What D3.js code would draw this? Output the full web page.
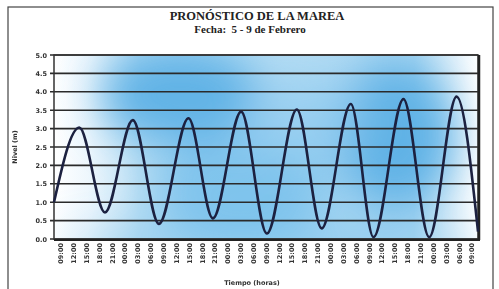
<!DOCTYPE html>
<html>
<head>
<meta charset="utf-8">
<script src="https://cdn.jsdelivr.net/npm/d3@7/dist/d3.min.js"></script>
<style>
html,body{margin:0;padding:0;background:#fff;}
svg{display:block;}
</style>
</head>
<body>
<svg id="chart" width="499" height="289"></svg>
<script>
// ---- data ----
const title = "PRONÓSTICO DE LA MAREA";
const subtitle = "Fecha:  5 - 9 de Febrero";
const yLabel = "Nivel (m)";
const xLabel = "Tiempo (horas)";
// tick labels every 3 hours
const timeLabels = ["09:00","12:00","15:00","18:00","21:00","00:00","03:00","06:00",
  "09:00","12:00","15:00","18:00","21:00","00:00","03:00","06:00",
  "09:00","12:00","15:00","18:00","21:00","00:00","03:00","06:00",
  "09:00","12:00","15:00","18:00","21:00","00:00","03:00","06:00","09:00"];
const yTicks = [0,0.5,1,1.5,2,2.5,3,3.5,4,4.5,5];
// tide turning points: hours since first label, level (m)
const tideHours  = [-1.5, 4.4, 10.4, 16.9, 23.0, 29.9, 35.6, 42.2, 48.2, 55.2, 61.0, 67.8, 73.1, 80.1, 86.1, 92.5, 97.5];
const tideLevels = [1.0, 3.03, 0.72, 3.23, 0.41, 3.28, 0.56, 3.46, 0.15, 3.52, 0.29, 3.67, 0.05, 3.8, 0.05, 3.87, 0.2];

// ---- layout ----
const svg = d3.select("#chart");
const L = 54, R = 478, T = 55, B = 239;
const stepH = 3;
const x = d3.scaleLinear().domain([-stepH/2, (timeLabels.length-1)*stepH + stepH/2]).range([L, R]);
const y = d3.scaleLinear().domain([0, 5]).range([B, T]);

// outer frame
svg.append("rect").attr("x",8).attr("y",7).attr("width",485).attr("height",300)
  .attr("fill","none").attr("stroke","#444").attr("stroke-width",1.2);

// titles
svg.append("text").attr("x",257).attr("y",20).attr("text-anchor","middle")
  .attr("font-family","Liberation Serif, serif").attr("font-weight","bold").attr("font-size",12.5)
  .attr("fill","#222").text(title);
svg.append("text").attr("x",250).attr("y",33).attr("text-anchor","middle")
  .attr("font-family","Liberation Serif, serif").attr("font-weight","bold").attr("font-size",11)
  .attr("fill","#222").attr("xml:space","preserve").text(subtitle);

// background shading
const defs = svg.append("defs");
defs.append("clipPath").attr("id","clip").append("rect")
  .attr("x",L).attr("y",T).attr("width",R-L).attr("height",B-T);
const f = defs.append("filter").attr("id","blur").attr("x","-50%").attr("y","-50%").attr("width","200%").attr("height","200%");
f.append("feGaussianBlur").attr("stdDeviation",22);
const lg = defs.append("linearGradient").attr("id","hgrad").attr("x1","0").attr("x2","1").attr("y1","0").attr("y2","0");
[[0,"#ffffff"],[0.08,"#eef7fd"],[0.2,"#bfe1f5"],[0.5,"#b5ddf4"],[0.85,"#b0daf3"],[0.95,"#e6f3fb"],[1,"#ffffff"]]
  .forEach(s=>lg.append("stop").attr("offset",s[0]).attr("stop-color",s[1]));

const bg = svg.append("g").attr("clip-path","url(#clip)");
bg.append("rect").attr("x",L).attr("y",T).attr("width",R-L).attr("height",B-T).attr("fill","url(#hgrad)");
const blobs = bg.append("g").attr("filter","url(#blur)");
const blobData = [
  {cx:180, cy:95, rx:80, ry:50, c:"#56aee4", o:0.9},
  {cx:240, cy:190, rx:90, ry:50, c:"#6dbbea", o:0.75},
  {cx:395, cy:135, rx:60, ry:75, c:"#56aee4", o:0.9},
  {cx:310, cy:120, rx:55, ry:45, c:"#8fcbef", o:0.7},
  {cx:270, cy:245, rx:210, ry:16, c:"#6dbbea", o:0.6}
];
blobs.selectAll("ellipse").data(blobData).join("ellipse")
  .attr("cx",d=>d.cx).attr("cy",d=>d.cy).attr("rx",d=>d.rx).attr("ry",d=>d.ry)
  .attr("fill",d=>d.c).attr("opacity",d=>d.o);

// gridlines
svg.append("g").selectAll("line").data(yTicks).join("line")
  .attr("x1",L-4).attr("x2",R).attr("y1",d=>y(d)).attr("y2",d=>y(d))
  .attr("stroke","#2a2a2a").attr("stroke-width",1.6);

// plot border
svg.append("rect").attr("x",L).attr("y",T).attr("width",R-L).attr("height",B-T)
  .attr("fill","none").attr("stroke","#333").attr("stroke-width",1.5);
svg.append("line").attr("x1",R+1).attr("x2",R+1).attr("y1",T).attr("y2",B+1)
  .attr("stroke","#222").attr("stroke-width",2.5);
svg.append("line").attr("x1",L).attr("x2",R+2).attr("y1",B+1).attr("y2",B+1)
  .attr("stroke","#222").attr("stroke-width",2.2);

// y axis labels
const yAxis = d3.axisLeft(y).tickValues(yTicks).tickFormat(d3.format(".1f")).tickSize(0).tickPadding(7);
const gy = svg.append("g").attr("transform",`translate(${L},0)`).call(yAxis);
gy.select(".domain").remove();
gy.selectAll("text").attr("font-family","DejaVu Sans, sans-serif").attr("font-weight","bold")
  .attr("font-size",6.5).attr("fill","#333");

// x axis labels
const tickHours = timeLabels.map((d,i)=>i*stepH);
const xAxis = d3.axisBottom(x).tickValues(tickHours).tickFormat((d,i)=>timeLabels[i]).tickSize(0).tickPadding(0);
const gx = svg.append("g").attr("transform",`translate(0,${B})`).call(xAxis);
gx.select(".domain").remove();
gx.selectAll("text")
  .attr("font-family","DejaVu Sans, sans-serif").attr("font-weight","bold").attr("font-size",6.5)
  .attr("fill","#333").attr("text-anchor","end").attr("dy","0.35em")
  .attr("transform","translate(0,4) rotate(-90)").attr("y",0).attr("x",0);

// axis titles
svg.append("text").attr("transform","translate(17,147) rotate(-90)").attr("text-anchor","middle")
  .attr("font-family","DejaVu Sans, sans-serif").attr("font-weight","bold").attr("font-size",6.5)
  .attr("fill","#333").text(yLabel);
svg.append("text").attr("x",252).attr("y",285).attr("text-anchor","middle")
  .attr("font-family","DejaVu Sans, sans-serif").attr("font-weight","bold").attr("font-size",6.5)
  .attr("fill","#333").text(xLabel);

// tide curve
const pts = tideHours.map((h,i)=>[h, tideLevels[i]]);
const line = d3.line().x(d=>x(d[0])).y(d=>y(d[1])).curve(d3.curveMonotoneX);
svg.append("path").datum(pts).attr("d",line).attr("fill","none")
  .attr("stroke","#1c2140").attr("stroke-width",2.6).attr("stroke-linejoin","round");
</script>
</body>
</html>
